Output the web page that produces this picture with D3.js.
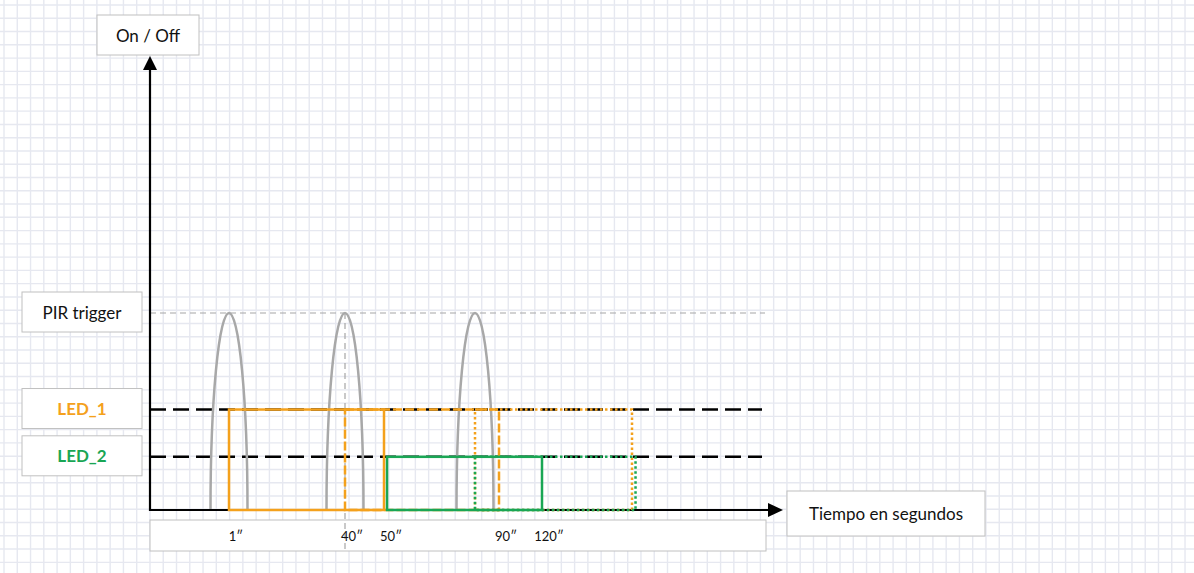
<!DOCTYPE html>
<html>
<head>
<meta charset="utf-8">
<script src="https://cdn.jsdelivr.net/npm/d3@7"></script>
<style>
  html, body { margin: 0; padding: 0; background: #ffffff; }
  svg { display: block; }
  text { font-family: Lato, "Open Sans", sans-serif; }
</style>
</head>
<body>
<svg id="chart" width="1194" height="573"></svg>
<script>
// ---------------- data ----------------
const tickTimes = [1, 40, 50, 90, 120];
const tickLabels = ["1\u2033", "40\u2033", "50\u2033", "90\u2033", "120\u2033"];
const pirPulses = [1, 40, 80];
const levelNames = ["PIR trigger", "LED_1", "LED_2"];
const levelValues = [100, 51, 27];
const led1Starts = [1, 40, 80];
const led1Ends = [50, 90, 130];
const led1Styles = ["solid", "dashed", "dotted"];
const led2Starts = [51, 80];
const led2Ends = [120, 131];
const led2Styles = ["solid", "dotted"];

// ---------------- layout ----------------
const W = 1194, H = 573;
const svg = d3.select("#chart");
const ORANGE = "#f4a11c", GREEN = "#19a654";

// schematic (non-linear) time axis
const x = d3.scaleLinear()
  .domain([0, 1, 40, 50, 80, 90, 120, 130, 168])
  .range([150, 229, 345, 384, 475, 499, 542, 632, 766]);
const y = d3.scaleLinear().domain([0, 100]).range([510, 313]);

// background grid
const gs = 13.27;
const grid = svg.append("g").attr("stroke", "#e6e8f0").attr("stroke-width", 1.4);
grid.selectAll("line.v").data(d3.range(4, W, gs)).join("line")
  .attr("x1", d => d).attr("x2", d => d).attr("y1", 0).attr("y2", H);
grid.selectAll("line.h").data(d3.range(5, H, gs)).join("line")
  .attr("y1", d => d).attr("y2", d => d).attr("x1", 0).attr("x2", W);

// label boxes helper
function box(x0, y0, w, h, label, opts = {}) {
  svg.append("rect").attr("x", x0).attr("y", y0).attr("width", w).attr("height", h)
    .attr("fill", "#fff").attr("stroke", "#c0c0c0").attr("stroke-width", 1);
  if (label) {
    svg.append("text").attr("x", x0 + w / 2).attr("y", y0 + h / 2)
      .attr("text-anchor", "middle").attr("dominant-baseline", "central")
      .attr("font-size", opts.size || 17).attr("font-weight", opts.weight || "normal")
      .attr("fill", opts.color || "#111").text(label);
  }
}

box(97, 15, 102, 40, "On / Off");
box(787, 491, 198, 45, "Tiempo en segundos");
const levelColors = ["#111", ORANGE, GREEN];
const levelWeights = ["normal", "bold", "bold"];
levelNames.forEach((n, i) => {
  const cy = y(levelValues[i]);
  box(22, cy - 21, 120, 40, n, { color: levelColors[i], weight: levelWeights[i] });
});

// time label strip
box(150, 520, 616, 31, null);

// PIR threshold dashed line
svg.append("line").attr("x1", x(0)).attr("x2", 765)
  .attr("y1", y(100)).attr("y2", y(100))
  .attr("stroke", "#a6a6a6").attr("stroke-width", 1.2).attr("stroke-dasharray", "6,4");

// vertical reference line at 40"
svg.append("line").attr("x1", x(40)).attr("x2", x(40))
  .attr("y1", y(100)).attr("y2", 551)
  .attr("stroke", "#a6a6a6").attr("stroke-width", 1.2).attr("stroke-dasharray", "6,4");

// LED on-level black dashed lines
svg.selectAll("line.lvl").data(levelValues.slice(1)).join("line")
  .attr("x1", x(0)).attr("x2", 762)
  .attr("y1", d => y(d)).attr("y2", d => y(d))
  .attr("stroke", "#000").attr("stroke-width", 2.5).attr("stroke-dasharray", "16,7");

// PIR pulses (half-ellipse arches)
const rx = 18.5;
svg.selectAll("path.pulse").data(pirPulses).join("path")
  .attr("d", d => `M${x(d) - rx},${y(0)} A${rx},${y(0) - y(100)} 0 0 1 ${x(d) + rx},${y(0)}`)
  .attr("fill", "none").attr("stroke", "#a8a8a8").attr("stroke-width", 2.5);

// axes
svg.append("line").attr("x1", x(0)).attr("x2", x(0)).attr("y1", y(0) + 1).attr("y2", 66)
  .attr("stroke", "#000").attr("stroke-width", 2.2);
svg.append("path").attr("d", "M150,56 L157,70 L143,70 Z").attr("fill", "#000");
svg.append("line").attr("x1", x(0) - 1).attr("x2", 772).attr("y1", y(0)).attr("y2", y(0))
  .attr("stroke", "#000").attr("stroke-width", 2.2);
svg.append("path").attr("d", "M783,510 L768,503 L768,517 Z").attr("fill", "#000");

// LED windows
const dash = { solid: null, dashed: "9,3", dotted: "2.5,2.5" };
function windows(starts, ends, styles, level, color) {
  const data = starts.map((s, i) => ({ s, e: ends[i], st: styles[i] }));
  svg.append("g").selectAll("rect").data(data).join("rect")
    .attr("x", d => x(d.s)).attr("width", d => x(d.e) - x(d.s))
    .attr("y", y(level)).attr("height", y(0) - y(level))
    .attr("fill", "none").attr("stroke", color).attr("stroke-width", 2.5)
    .attr("stroke-dasharray", d => dash[d.st]);
}
windows(led1Starts, led1Ends, led1Styles, levelValues[1], ORANGE);
windows(led2Starts, led2Ends, led2Styles, levelValues[2], GREEN);

// time tick labels
svg.selectAll("text.tick").data(tickTimes).join("text")
  .attr("x", d => x(d) + 7).attr("y", 536)
  .attr("text-anchor", "middle").attr("dominant-baseline", "central")
  .attr("font-size", 13).attr("fill", "#111")
  .text((d, i) => tickLabels[i]);
</script>
</body>
</html>
